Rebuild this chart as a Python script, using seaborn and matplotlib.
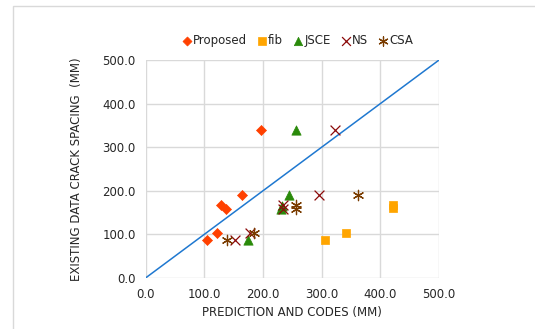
import numpy as np
import pandas as pd
import matplotlib
matplotlib.use("Agg")
import matplotlib.pyplot as plt
import matplotlib.patches as mpatches
from matplotlib.ticker import FormatStrFormatter
import seaborn as sns

# values
proposed_x = [104, 122, 128, 137, 165, 196]
proposed_y = [88, 103, 168, 158, 190, 340]
fib_x = [305, 342, 422, 422]
fib_y = [88, 104, 168, 160]
jsce_x = [174, 231, 233, 244, 257]
jsce_y = [88, 158, 165, 190, 340]
ns_x = [153, 178, 234, 234, 295, 323]
ns_y = [88, 103, 158, 168, 190, 340]
csa_x = [138, 185, 257, 257, 362]
csa_y = [88, 103, 168, 158, 190]
line_x = [0, 500]
line_y = [0, 500]
ticks = [0, 100, 200, 300, 400, 500]

series = [
    ("Proposed", proposed_x, proposed_y, "D", "#FF4000", 26),
    ("fib", fib_x, fib_y, "s", "#FFA500", 40),
    ("JSCE", jsce_x, jsce_y, "^", "#2A8A0A", 45),
    ("NS", ns_x, ns_y, "x", "#8B0A0A", 50),
    ("CSA", csa_x, csa_y, (6, 2, 0), "#7A3C00", 55),
]

sns.set_theme(style="white")
plt.rcParams["font.family"] = ["DejaVu Sans"]

fig = plt.figure(figsize=(5.35, 3.29), dpi=100)
fig.patches.append(mpatches.Rectangle((12.5 / 535, -0.1), 1.1, 1 - 6 / 329 + 0.1,
                                      transform=fig.transFigure, fill=False,
                                      edgecolor="#D9D9D9", linewidth=1))
ax = fig.add_axes([0.272, 0.155, 0.549, 0.663])

sns.lineplot(x=line_x, y=line_y, ax=ax, color="#1F78D0", linewidth=1.1, zorder=2)

for name, xs, ys, mk, col, size in series:
    df = pd.DataFrame({"x": xs, "y": ys})
    if mk in ("D", "s", "^"):
        sns.scatterplot(data=df, x="x", y="y", ax=ax, marker=mk, color=col,
                        s=size, edgecolor=col, linewidth=0.5, label=name, zorder=3)
    else:
        sns.scatterplot(data=df, x="x", y="y", ax=ax, marker=mk, color=col,
                        s=size, linewidth=0.9, label=name, zorder=3)

ax.set_xlim(0, 500)
ax.set_ylim(0, 500)
ax.set_xticks(ticks)
ax.set_yticks(ticks)
ax.xaxis.set_major_formatter(FormatStrFormatter("%.1f"))
ax.yaxis.set_major_formatter(FormatStrFormatter("%.1f"))
ax.grid(True, color="#D9D9D9", linewidth=1)
for sp in ax.spines.values():
    sp.set_visible(False)
ax.tick_params(length=0, labelsize=8.5, colors="#262626", pad=7)
ax.set_xlabel("PREDICTION AND CODES (MM)", fontsize=8.5, color="#262626", labelpad=4)
ax.set_ylabel("EXISTING DATA CRACK SPACING  (MM)", fontsize=8.5, color="#262626", labelpad=14)

leg = ax.legend(loc="center", bbox_to_anchor=(0.555, 0.876), bbox_transform=fig.transFigure,
                ncol=5, frameon=False, fontsize=8.5, handletextpad=0.0, handlelength=1.0,
                columnspacing=0.8, borderaxespad=0, markerscale=0.9)
for t in leg.get_texts():
    t.set_color("#262626")

fig.savefig("out.png", dpi=100)
